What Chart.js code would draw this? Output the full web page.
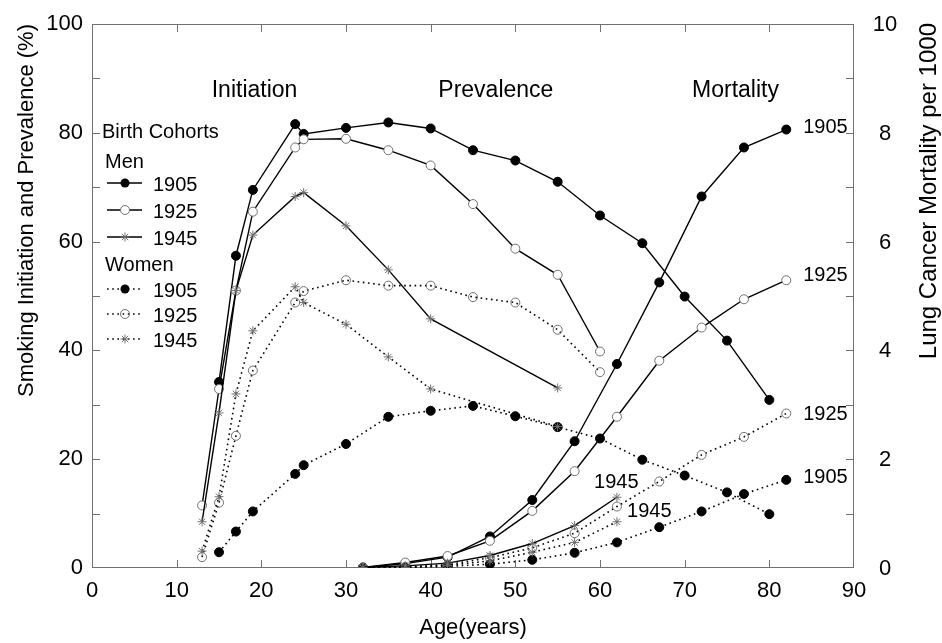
<!DOCTYPE html>
<html>
<head>
<meta charset="utf-8">
<script src="https://cdn.jsdelivr.net/npm/chart.js@4.4.0/dist/chart.umd.min.js"></script>
<style>
  html, body { margin: 0; padding: 0; background: #fff; }
</style>
</head>
<body>
<canvas id="chart" width="942" height="643"></canvas>
<script>
// ages (years) at which each series was sampled
const agesInit1905 = [15, 17, 19, 24, 25, 30, 35, 40, 45, 50, 55, 60, 65, 70, 75, 80];
const agesInit1925 = [13, 15, 17, 19, 24, 25, 30, 35, 40, 45, 50, 55, 60];
const agesInit1945 = [13, 15, 17, 19, 24, 25, 30, 35, 40, 55];
const agesMort = [32, 37, 42, 47, 52, 57, 62, 67, 72, 77, 82];
const agesMort1945 = [32, 37, 42, 47, 52, 57, 62];

// smoking initiation and prevalence (%)
const menPrev1905 = [34.2, 57.4, 69.5, 81.6, 79.8, 80.9, 81.9, 80.8, 76.8, 74.9, 71.0, 64.8, 59.7, 49.9, 41.8, 30.9];
const menPrev1925 = [11.5, 32.9, 51.0, 65.5, 77.3, 78.8, 78.9, 76.8, 74.0, 66.9, 58.7, 53.9, 39.8];
const menPrev1945 = [8.5, 28.5, 51.0, 61.2, 68.3, 69.0, 62.9, 54.8, 45.8, 33.1];
const womenPrev1905 = [2.9, 6.7, 10.4, 17.3, 18.9, 22.8, 27.8, 28.9, 29.8, 27.9, 25.9, 23.8, 19.9, 17.0, 13.9, 9.9];
const womenPrev1925 = [2.0, 12.0, 24.3, 36.3, 48.8, 50.9, 52.9, 51.9, 51.9, 49.8, 48.8, 43.8, 36.0];
const womenPrev1945 = [3.1, 13.1, 32.0, 43.6, 51.7, 48.8, 44.8, 38.8, 32.9, 26.0];

// lung cancer mortality per 1000
const menMort1905 = [0.01, 0.08, 0.2, 0.58, 1.25, 2.33, 3.75, 5.25, 6.83, 7.73, 8.06];
const menMort1925 = [0.01, 0.1, 0.22, 0.5, 1.05, 1.78, 2.78, 3.81, 4.42, 4.94, 5.29];
const menMort1945 = [0.01, 0.04, 0.09, 0.23, 0.45, 0.78, 1.3];
const womenMort1905 = [0, 0.01, 0.03, 0.07, 0.15, 0.28, 0.47, 0.75, 1.04, 1.36, 1.62];
const womenMort1925 = [0, 0.02, 0.06, 0.19, 0.37, 0.64, 1.13, 1.59, 2.08, 2.41, 2.84];
const womenMort1945 = [0, 0.01, 0.05, 0.13, 0.29, 0.47, 0.85];

// text on the plot
const sectionTitles = ['Initiation', 'Prevalence', 'Mortality'];
const sectionAges = [19.2, 47.7, 76.0];
const curveLabels = ['1905', '1925', '1925', '1905', '1945', '1945'];
const curveLabelAges = [84, 84, 84, 84, 59.3, 63.2];
const curveLabelRates = [8.1, 5.37, 2.83, 1.67, 1.57, 1.03];

const FONT = '"Liberation Sans", Arial, sans-serif';
const GRAY = '#707070';

// men's open circles are white-filled, women's are hollow (dotted line shows through)
function series(label, ages, vals, axis, marker, dotted, order) {
  let fillCol = 'rgba(255,255,255,0)';
  if (marker === 'filled') fillCol = '#000';
  else if (marker === 'open' && !dotted) fillCol = '#fff';
  return {
    label: label,
    data: ages.map((a, i) => ({ x: a, y: vals[i] })),
    yAxisID: axis,
    order: order,
    borderColor: '#000',
    borderWidth: dotted ? 1.6 : 1.4,
    borderDash: dotted ? [1.6, 3.6] : [],
    pointStyle: marker === 'star' ? 'star' : 'circle',
    pointRadius: 4.5,
    pointBorderWidth: 1,
    pointBackgroundColor: fillCol,
    pointBorderColor: marker === 'filled' ? '#000' : GRAY,
    tension: 0,
    fill: false
  };
}

function drawMarker(ctx, marker, x, y, r, dotted) {
  ctx.save();
  ctx.lineWidth = 1;
  if (marker === 'filled') {
    ctx.fillStyle = '#000';
    ctx.beginPath(); ctx.arc(x, y, r, 0, Math.PI * 2); ctx.fill();
  } else if (marker === 'open') {
    ctx.strokeStyle = GRAY;
    ctx.fillStyle = '#fff';
    ctx.beginPath(); ctx.arc(x, y, r, 0, Math.PI * 2);
    if (!dotted) ctx.fill();
    ctx.stroke();
  } else {
    ctx.strokeStyle = GRAY;
    ctx.beginPath();
    for (let k = 0; k < 4; k++) {
      const t = k * Math.PI / 4;
      ctx.moveTo(x - r * Math.cos(t), y - r * Math.sin(t));
      ctx.lineTo(x + r * Math.cos(t), y + r * Math.sin(t));
    }
    ctx.stroke();
  }
  ctx.restore();
}

const decorations = {
  id: 'decorations',
  beforeDatasetsDraw(chart) {
    const { ctx, chartArea: a, scales } = chart;
    ctx.save();
    ctx.strokeStyle = GRAY;
    ctx.lineWidth = 1;
    ctx.strokeRect(a.left + 0.5, a.top + 0.5, a.right - a.left - 1, a.bottom - a.top - 1);
    ctx.beginPath();
    for (let v = 10; v < 90; v += 10) {
      const px = Math.round(scales.x.getPixelForValue(v)) + 0.5;
      ctx.moveTo(px, a.bottom); ctx.lineTo(px, a.bottom - 8);
      ctx.moveTo(px, a.top); ctx.lineTo(px, a.top + 8);
    }
    for (let v = 10; v < 100; v += 10) {
      const py = Math.round(scales.y.getPixelForValue(v)) + 0.5;
      ctx.moveTo(a.left, py); ctx.lineTo(a.left + 8, py);
    }
    for (let v = 1; v < 10; v += 1) {
      const py = Math.round(scales.y2.getPixelForValue(v)) + 0.5;
      ctx.moveTo(a.right, py); ctx.lineTo(a.right - 8, py);
    }
    ctx.stroke();
    ctx.restore();
  },
  afterDraw(chart) {
    const { ctx, chartArea: a, scales } = chart;
    ctx.save();
    ctx.fillStyle = '#000';
    ctx.textBaseline = 'middle';

    // right axis tick labels, centred in the margin
    ctx.font = '22px ' + FONT;
    ctx.textAlign = 'center';
    scales.y2.ticks.forEach(t => {
      ctx.fillText(String(t.value), a.right + 31, scales.y2.getPixelForValue(t.value) + 1);
    });

    // section titles
    ctx.font = '23px ' + FONT;
    sectionTitles.forEach((t, i) => {
      ctx.fillText(t, scales.x.getPixelForValue(sectionAges[i]), scales.y.getPixelForValue(87.8));
    });

    // cohort labels next to mortality curves
    ctx.font = '20px ' + FONT;
    ctx.textAlign = 'left';
    curveLabels.forEach((t, i) => {
      ctx.fillText(t, scales.x.getPixelForValue(curveLabelAges[i]), scales.y2.getPixelForValue(curveLabelRates[i]));
    });

    // legend
    const lx = a.left;
    const ly = a.top;
    ctx.fillText('Birth Cohorts', lx + 10, ly + 108);
    ctx.fillText('Men', lx + 13, ly + 138);
    ctx.fillText('Women', lx + 13, ly + 241);
    const rows = [
      ['1905', 'filled', false, 159], ['1925', 'open', false, 186], ['1945', 'star', false, 213],
      ['1905', 'filled', true, 265], ['1925', 'open', true, 290], ['1945', 'star', true, 315]
    ];
    rows.forEach(([t, m, dotted, dy]) => {
      const y = ly + dy;
      ctx.save();
      ctx.strokeStyle = '#000';
      ctx.lineWidth = dotted ? 1.6 : 1.4;
      ctx.setLineDash(dotted ? [1.6, 3.6] : []);
      ctx.beginPath(); ctx.moveTo(lx + 15, y); ctx.lineTo(lx + 50, y); ctx.stroke();
      ctx.restore();
      drawMarker(ctx, m, lx + 33, y, 4.5, dotted);
      ctx.fillText(t, lx + 61, y + 2);
    });

    // right axis title, reading bottom to top
    ctx.font = '24px ' + FONT;
    ctx.translate(929, a.top - 1);
    ctx.rotate(-Math.PI / 2);
    ctx.textAlign = 'right';
    ctx.fillText('Lung Cancer Mortality per 1000', 0, 0);
    ctx.restore();
  }
};

const ctx = document.getElementById('chart').getContext('2d');
new Chart(ctx, {
  type: 'line',
  data: {
    datasets: [
      series('Men 1905', agesInit1905, menPrev1905, 'y', 'filled', false, 6),
      series('Men 1925', agesInit1925, menPrev1925, 'y', 'open', false, 5),
      series('Men 1945', agesInit1945, menPrev1945, 'y', 'star', false, 4),
      series('Women 1905', agesInit1905, womenPrev1905, 'y', 'filled', true, 9),
      series('Women 1925', agesInit1925, womenPrev1925, 'y', 'open', true, 8),
      series('Women 1945', agesInit1945, womenPrev1945, 'y', 'star', true, 7),
      series('Men 1905 mortality', agesMort, menMort1905, 'y2', 'filled', false, 12),
      series('Men 1925 mortality', agesMort, menMort1925, 'y2', 'open', false, 11),
      series('Men 1945 mortality', agesMort1945, menMort1945, 'y2', 'star', false, 1),
      series('Women 1905 mortality', agesMort, womenMort1905, 'y2', 'filled', true, 10),
      series('Women 1925 mortality', agesMort, womenMort1925, 'y2', 'open', true, 3),
      series('Women 1945 mortality', agesMort1945, womenMort1945, 'y2', 'star', true, 2)
    ]
  },
  options: {
    responsive: false,
    animation: false,
    layout: { padding: { top: 24, left: 0, right: 0, bottom: 0 } },
    plugins: { legend: { display: false }, tooltip: { enabled: false } },
    scales: {
      x: {
        type: 'linear',
        min: 0, max: 90,
        grid: { display: false, drawTicks: false },
        border: { display: false },
        ticks: { stepSize: 10, color: '#000', padding: 10, maxRotation: 0, font: { family: FONT, size: 22 } },
        title: { display: true, text: 'Age(years)', color: '#000', padding: { top: 0, bottom: 2 }, font: { family: FONT, size: 22 } },
        afterFit(scale) { scale.height = 75; }
      },
      y: {
        position: 'left',
        min: 0, max: 100,
        grid: { display: false, drawTicks: false },
        border: { display: false },
        ticks: { stepSize: 20, color: '#000', padding: 9, font: { family: FONT, size: 22 } },
        title: { display: true, text: 'Smoking Initiation and Prevalence (%)', align: 'end', color: '#000', padding: { top: 14, bottom: 0 }, font: { family: FONT, size: 22 } },
        afterFit(scale) { scale.width = 92; }
      },
      y2: {
        position: 'right',
        min: 0, max: 10,
        grid: { display: false, drawTicks: false },
        border: { display: false },
        ticks: { stepSize: 2, display: false },
        afterFit(scale) { scale.width = 88; }
      }
    }
  },
  plugins: [decorations]
});
</script>
</body>
</html>
